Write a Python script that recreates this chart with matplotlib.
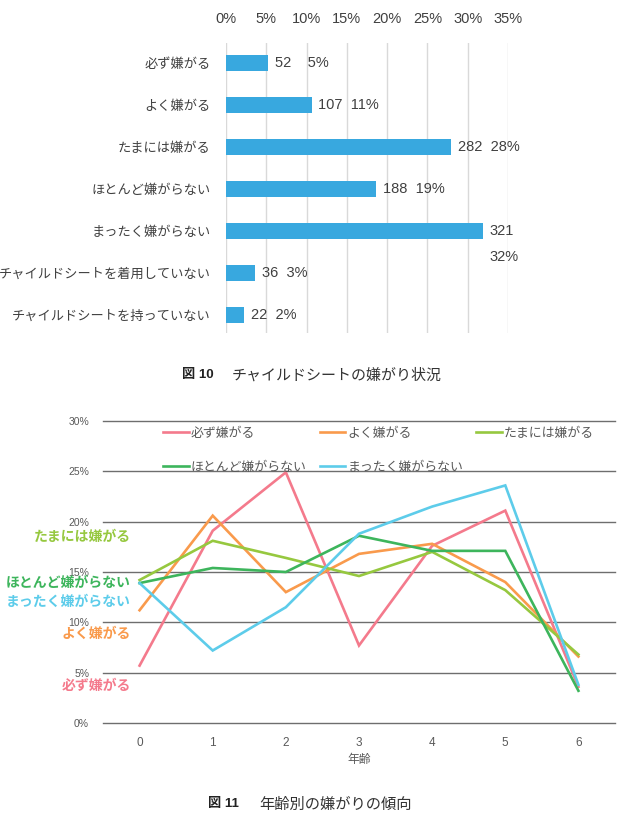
import matplotlib
matplotlib.use("Agg")
import matplotlib.pyplot as plt
import numpy as np
from matplotlib.transforms import blended_transform_factory

plt.rcParams['font.family'] = ['Liberation Sans', 'Noto Sans CJK JP', 'DejaVu Sans']

# ---------------- data: figure 10 ----------------
categories = ["必ず嫌がる", "よく嫌がる", "たまには嫌がる", "ほとんど嫌がらない",
              "まったく嫌がらない", "チャイルドシートを着用していない", "チャイルドシートを持っていない"]
counts = [52, 107, 282, 188, 321, 36, 22]
pct_labels = [5, 11, 28, 19, 32, 3, 2]
x_ticks_top = [0, 5, 10, 15, 20, 25, 30, 35]

# ---------------- data: figure 11 ----------------
ages = [0, 1, 2, 3, 4, 5, 6]
series_names = ["必ず嫌がる", "よく嫌がる", "たまには嫌がる", "ほとんど嫌がらない", "まったく嫌がらない"]
s_kanarazu = [5.7, 19.1, 24.9, 7.7, 17.6, 21.1, 3.6]
s_yoku = [11.2, 20.6, 13.0, 16.8, 17.8, 14.0, 6.6]
s_tamani = [14.2, 18.1, 16.4, 14.6, 17.0, 13.2, 6.8]
s_hotondo = [13.9, 15.4, 15.0, 18.6, 17.1, 17.1, 3.2]
s_mattaku = [13.9, 7.2, 11.5, 18.8, 21.5, 23.6, 3.8]
y_ticks_bottom = [0, 5, 10, 15, 20, 25, 30]

series_colors = ["#F47A8C", "#F99A4C", "#96C83F", "#3DB55C", "#5DCCEA"]
bar_color = "#38A8DF"

W, H = 624, 824
fig = plt.figure(figsize=(W / 100, H / 100), dpi=100)

def fx(px):
    return px / W

def fy(py):
    return 1 - py / H

# ---------------- top chart ----------------
ax1 = fig.add_axes([fx(226), fy(333), fx(508 - 226), fy(43) - fy(333)])
pcts = np.array(counts) / sum(counts) * 100
ypos = np.arange(len(categories))
ax1.barh(ypos, pcts, height=0.36, color=bar_color, zorder=3)
ax1.set_xlim(0, 35)
ax1.set_ylim(6.43, -0.476)
ax1.set_xticks(x_ticks_top)
ax1.set_xticklabels([f"{t}%" for t in x_ticks_top], fontsize=10.5, color="#404040")
ax1.xaxis.tick_top()
ax1.tick_params(axis='x', length=0, pad=12)
ax1.set_yticks(ypos)
ax1.set_yticklabels(categories, fontsize=9.5, color="#404040")
ax1.tick_params(axis='y', length=0, pad=11)
ax1.grid(axis='x', color="#d9d9d9", linewidth=1, zorder=0)
for s in ax1.spines.values():
    s.set_visible(False)

for i, (v, n, p) in enumerate(zip(pcts, counts, pct_labels)):
    if v > 30:
        ax1.annotate(f"{n}", (v, i), xytext=(5, 0), textcoords="offset points",
                     va="center", ha="left", fontsize=10.5, color="#404040", annotation_clip=False)
        ax1.annotate(f"{p}%", (v, i), xytext=(5, -19), textcoords="offset points",
                     va="center", ha="left", fontsize=10.5, color="#404040", annotation_clip=False)
    else:
        gap = "    " if n < 100 and p >= 5 else "  "
        ax1.annotate(f"{n}{gap}{p}%", (v, i), xytext=(5, 0), textcoords="offset points",
                     va="center", ha="left", fontsize=10.5, color="#404040", annotation_clip=False)

fig.text(fx(182), fy(375), "図 10", fontsize=9.5, fontweight="bold", va="center", ha="left",
         color="#222222", family=["Liberation Sans", "Noto Sans CJK JP"])
fig.text(fx(232), fy(375), "チャイルドシートの嫌がり状況", fontsize=10.8, va="center", ha="left",
         color="#333333", family=["Noto Sans CJK JP"])

# ---------------- bottom chart ----------------
ax2 = fig.add_axes([fx(103), fy(723), fx(615 - 103), fy(421) - fy(723)])
all_series = [s_kanarazu, s_yoku, s_tamani, s_hotondo, s_mattaku]
lines = []
for name, vals, c in zip(series_names, all_series, series_colors):
    ln, = ax2.plot(ages, vals, color=c, linewidth=1.9, label=name, zorder=3,
                   solid_joinstyle="miter")
    lines.append(ln)
ax2.set_xlim(-0.5, 6.5)
ax2.set_ylim(0, 30)
ax2.set_yticks(y_ticks_bottom)
ax2.set_yticklabels([f"{t}%" for t in y_ticks_bottom], fontsize=7.5, color="#595959")
ax2.set_xticks(ages)
ax2.set_xticklabels([str(a) for a in ages], fontsize=8.5, color="#595959")
ax2.tick_params(axis='both', length=0)
ax2.tick_params(axis='y', pad=10)
ax2.tick_params(axis='x', pad=10)
ax2.set_xlabel("年齢", fontsize=8.5, color="#595959", labelpad=3, family=["Noto Sans CJK JP"])
ax2.grid(axis='y', color="#6e6e6e", linewidth=1, zorder=0)
for gl in ax2.get_ygridlines():
    gl.set_clip_on(False)
for s in ax2.spines.values():
    s.set_visible(False)

order = [0, 3, 1, 4, 2]
leg = ax2.legend([lines[k] for k in order], [series_names[k] for k in order],
                 ncol=3, loc="upper left", bbox_to_anchor=(fx(163), fy(427)),
                 bbox_transform=fig.transFigure, frameon=False, fontsize=9.3,
                 labelcolor="#595959", handlelength=2.0, handletextpad=0.15,
                 columnspacing=1.0, labelspacing=1.6, borderpad=0, borderaxespad=0)
for t in leg.get_texts():
    t.set_family(["Noto Sans CJK JP"])

label_y = [3.7, 8.9, 18.5, 13.9, 12.0]
trans = blended_transform_factory(fig.transFigure, ax2.transData)
for name, c, yy in zip(series_names, series_colors, label_y):
    ax2.text(fx(131), yy, name, transform=trans, ha="right", va="center", fontsize=10,
             fontweight="bold", color=c, family=["Noto Sans CJK JP"], clip_on=False)

fig.text(fx(208), fy(804), "図 11", fontsize=9.5, fontweight="bold", va="center", ha="left",
         color="#222222", family=["Liberation Sans", "Noto Sans CJK JP"])
fig.text(fx(259), fy(804), "年齢別の嫌がりの傾向", fontsize=11, va="center", ha="left",
         color="#333333", family=["Noto Sans CJK JP"])

fig.savefig("out.png", dpi=100, facecolor="white")
